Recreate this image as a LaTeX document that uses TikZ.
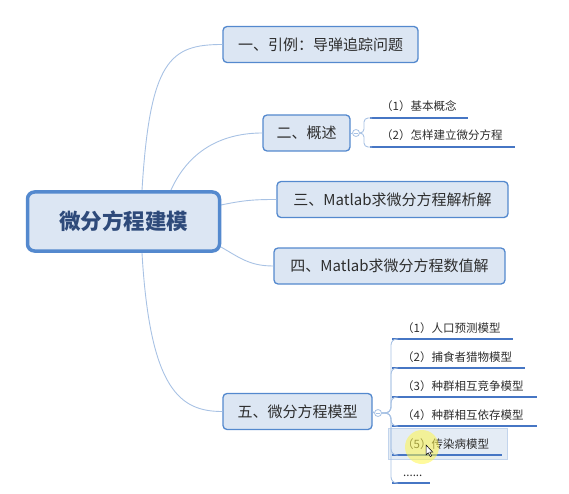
\documentclass[tikz,border=0pt]{standalone}
\usepackage{fontspec}
\setmainfont{Noto Sans CJK SC}
\usepackage{tikz}
\usetikzlibrary{positioning}
\definecolor{MapBlue}{RGB}{84,137,206}
\definecolor{MapFill}{RGB}{220,230,243}
\definecolor{MapLine}{RGB}{168,194,228}
\definecolor{MapInk}{RGB}{46,74,122}
\definecolor{MapText}{RGB}{45,45,45}
\definecolor{MapUnder}{RGB}{70,118,196}
\definecolor{MapSel}{RGB}{228,236,245}

\begin{document}
\begin{tikzpicture}[x=1pt, y=-1pt,
          root/.style={rectangle, rounded corners=7pt, draw=MapBlue, line width=3.5pt,
                       fill=MapFill, minimum width=192pt, minimum height=59pt,
                       font=\fontsize{21.5}{24}\selectfont\bfseries, text=MapInk},
          topic/.style={rectangle, rounded corners=4pt, draw=MapBlue, line width=1.3pt,
                        fill=MapFill, minimum height=36pt,
                        font=\fontsize{15}{18}\selectfont, text=MapText},
          leaf/.style={anchor=base west, inner sep=0pt,
                       font=\fontsize{11.5}{14}\selectfont, text=MapText},
          fold/.style={circle, draw=MapLine, fill=white, line width=0.8pt,
                       minimum size=7pt, inner sep=0pt},
          br/.style={draw=MapLine, line width=0.9pt},
          uline/.style={draw=MapUnder, line width=2.4pt}
        ]
        \useasboundingbox (0,0) rectangle (569,494);

        % topics
        \node[topic, minimum width=195pt] (t1) at (320.5, 44.5) {一、引例：导弹追踪问题};
        \node[topic, minimum width=87pt]  (t2) at (306.5, 133)  {二、概述};
        \node[topic, minimum width=231pt] (t3) at (392.5, 199.5) {三、Matlab求微分方程解析解};
        \node[topic, minimum width=231pt] (t4) at (389.5, 266)  {四、Matlab求微分方程数值解};
        \node[topic, minimum width=149pt] (t5) at (297.5, 411.5) {五、微分方程模型};

        % branches from the centre topic
        \coordinate (r1) at (142, 190);
        \coordinate (r2) at (171, 190);
        \coordinate (r3) at (221, 205);
        \coordinate (r4) at (221, 247);
        \coordinate (r5) at (142, 253);
        \draw[br] (r1) .. controls (150, 60) and (170, 44.5) .. (t1.west);
        \draw[br] (r2) .. controls (190, 148) and (225, 133) .. (t2.west);
        \draw[br] (r3) .. controls (245, 200) and (255, 199.5) .. (t3.west);
        \draw[br] (r4) .. controls (240, 258) and (250, 266) .. (t4.west);
        \draw[br] (r5) .. controls (150, 390) and (180, 411.5) .. (t5.west);

        \node[root] (root) at (123.5, 221.5) {微分方程建模};

        % sub items of topic 2
        \node[fold] (f2) at (356, 133) {};
        \draw[br] (t2.east) -- (f2.west);
        \draw[MapLine, line width=0.6pt] ([xshift=-1.8pt]f2.center) -- ([xshift=1.8pt]f2.center);
        \coordinate (u21) at (370, 118);
        \coordinate (u22) at (370, 147);
        \draw[uline] (u21) -- ++(98, 0);
        \draw[uline] (u22) -- ++(145, 0);
        \draw[br, rounded corners=4pt] (f2.east) -| ([xshift=-6pt]u21) -- ([xshift=2pt]u21);
        \draw[br, rounded corners=4pt] (f2.east) -| ([xshift=-6pt]u22) -- ([xshift=2pt]u22);
        \node[leaf] (s21) at (381, 111) {（1）基本概念};
        \node[leaf] (s22) at (381, 140) {（2）怎样建立微分方程};

        % sub items of topic 5
        \node[fold] (f5) at (378, 413) {};
        \draw[br] (t5.east) -- (f5.west);
        \draw[MapLine, line width=0.6pt] ([xshift=-1.8pt]f5.center) -- ([xshift=1.8pt]f5.center);
        \fill[MapSel, draw=MapLine!70] (388, 428) rectangle (507, 459);
        \coordinate (u51) at (392, 339);
        \coordinate (u52) at (392, 368);
        \coordinate (u53) at (392, 397);
        \coordinate (u54) at (392, 426);
        \coordinate (u55) at (392, 455);
        \coordinate (u56) at (392, 483);
        \draw[uline] (u51) -- ++(121, 0);
        \draw[uline] (u52) -- ++(133, 0);
        \draw[uline] (u53) -- ++(145, 0);
        \draw[uline] (u54) -- ++(145, 0);
        \draw[uline] (u55) -- ++(110, 0);
        \draw[uline] (u56) -- ++(38, 0);
        \foreach \u in {u51, u52, u53, u54, u55, u56}
          \draw[br, rounded corners=6pt] (f5.east) -| ([xshift=-1pt]\u) -- ([xshift=6pt]\u);
        \node[leaf] (s51) at (402, 332) {（1）人口预测模型};
        \node[leaf] (s52) at (402, 361) {（2）捕食者猎物模型};
        \node[leaf] (s53) at (402, 390) {（3）种群相互竞争模型};
        \node[leaf] (s54) at (402, 419) {（4）种群相互依存模型};
        \node[leaf] (s55) at (402, 448) {（5）传染病模型};
        \node[leaf] (s56) at (403, 476) {......};

        % pointer
        \fill[yellow!70!white, opacity=0.55] (422, 447) circle (17);
        \draw[black, fill=white, line width=0.5pt]
              (426, 445) -- (426, 455) -- (428.3, 452.8) -- (430.2, 456.5)
              -- (431.6, 455.8) -- (429.8, 452.2) -- (432.8, 452.2) -- cycle;
      \end{tikzpicture}
\end{document}
